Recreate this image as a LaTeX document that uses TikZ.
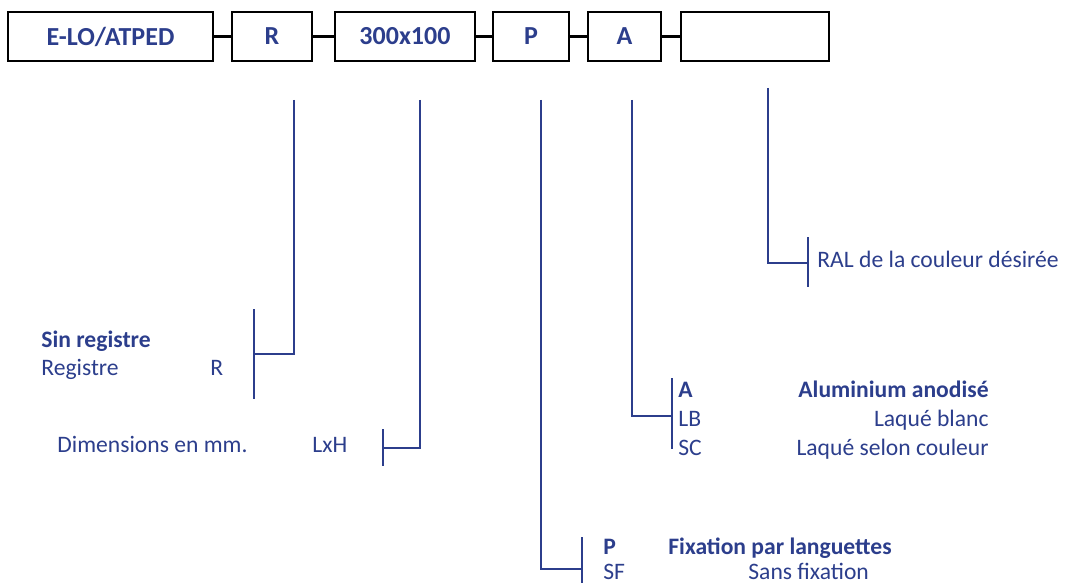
\documentclass[tikz,border=0pt]{standalone}
\usepackage{fontspec}
\setmainfont{Carlito}
\definecolor{navy}{RGB}{44,62,140}
\begin{document}
\begin{tikzpicture}[x=0.5pt,y=-0.5pt,
  codebox/.style={draw=black,line width=1pt,minimum height=24.5pt,inner sep=0pt,font=\bfseries\fontsize{13}{15}\selectfont,text=navy},
  joiner/.style={draw=black,line width=1.6pt},
  leader/.style={draw=navy,line width=1.15pt},
  lbl/.style={anchor=base west,inner sep=0pt,text=navy,font=\fontsize{11.8}{14}\selectfont},
  lblr/.style={anchor=base east,inner sep=0pt,text=navy,font=\fontsize{11.8}{14}\selectfont},
  bfl/.style={font=\bfseries\fontsize{11.8}{14}\selectfont}]
\useasboundingbox (0,0) rectangle (1065,583);
% code boxes
\node[codebox,minimum width=102.5pt] (b1) at (110.5,36.5) {E-LO/ATPED};
\node[codebox,minimum width=40pt] (b2) at (272,36.5) {R};
\node[codebox,minimum width=70pt] (b3) at (405,36.5) {300x100};
\node[codebox,minimum width=38pt] (b4) at (531,36.5) {P};
\node[codebox,minimum width=36.5pt] (b5) at (624.5,36.5) {A};
\node[codebox,minimum width=74pt] (b6) at (755,36.5) {};
\draw[joiner] (b1.east) -- (b2.west);
\draw[joiner] (b2.east) -- (b3.west);
\draw[joiner] (b3.east) -- (b4.west);
\draw[joiner] (b4.east) -- (b5.west);
\draw[joiner] (b5.east) -- (b6.west);
% leader starts
\coordinate (sR) at (294,100);
\coordinate (sD) at (420,100);
\coordinate (sP) at (541,100);
\coordinate (sA) at (632,100);
\coordinate (sC) at (768,88);
% bracket coordinates
\coordinate (kR) at (254,354);
\coordinate (kRt) at (254,309); \coordinate (kRb) at (254,399);
\coordinate (kD) at (383,448);
\coordinate (kDt) at (383,429); \coordinate (kDb) at (383,466);
\coordinate (kP) at (582,569);
\coordinate (kPt) at (582,537); \coordinate (kPb) at (582,583);
\coordinate (kA) at (672,416);
\coordinate (kAt) at (672,378); \coordinate (kAb) at (672,449);
\coordinate (kC) at (808,263);
\coordinate (kCt) at (808,237); \coordinate (kCb) at (808,287);
% leaders
\draw[leader] (sR) |- (kR);
\draw[leader] (kRt) -- (kRb);
\draw[leader] (sD) |- (kD);
\draw[leader] (kDt) -- (kDb);
\draw[leader] (sP) |- (kP);
\draw[leader] (kPt) -- (kPb);
\draw[leader] (sA) |- (kA);
\draw[leader] (kAt) -- (kAb);
\draw[leader] (sC) |- (kC);
\draw[leader] (kCt) -- (kCb);
% labels
\node[lbl,bfl] (t1) at (41,347) {Sin registre};
\node[lbl] (t2) at (41,375) {Registre};
\node[lbl] (t3) at (210,375) {R};
\node[lbl] (t4) at (57,452) {Dimensions en mm.};
\node[lbl] (t5) at (312,452) {LxH};
\node[lbl,bfl] (t6) at (678,397) {A};
\node[lblr,bfl] (t7) at (989,397) {Aluminium anodisé};
\node[lbl] (t8) at (678,426) {LB};
\node[lblr] (t9) at (989,426) {Laqué blanc};
\node[lbl] (t10) at (678,455) {SC};
\node[lblr] (t11) at (989,455) {Laqué selon couleur};
\node[lbl,bfl] (t12) at (603,554) {P};
\node[lbl,bfl] (t13) at (668,554) {Fixation par languettes};
\node[lbl] (t14) at (603,579) {SF};
\node[lbl] (t15) at (748,579) {Sans fixation};
\node[lbl] (t16) at (817,267) {RAL de la couleur désirée};
\end{tikzpicture}
\end{document}
